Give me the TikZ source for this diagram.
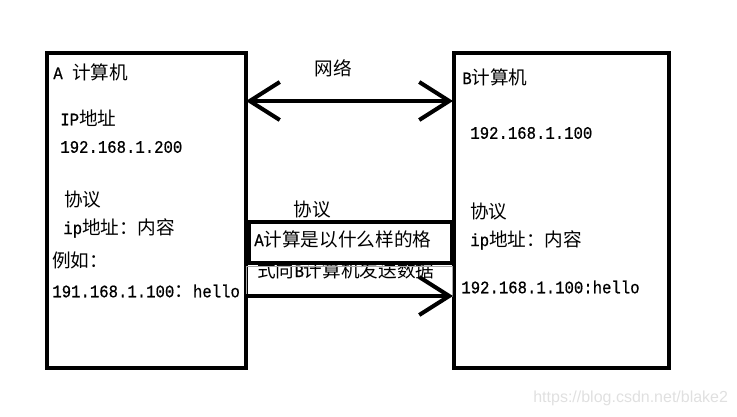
\documentclass[tikz,border=0pt]{standalone}
\usepackage{fontspec}
\setmainfont[FakeStretch=0.89, FakeBold=0.6]{Liberation Mono}
\newfontfamily\cjk[Scale=1.06]{Noto Sans CJK SC}
\newfontfamily\wmfont{Liberation Sans}
\usetikzlibrary{arrows.meta}
\tikzset{
  pcbox/.style={rectangle, draw=black, line width=1.8pt, minimum width=#1,
                minimum height=6.3cm, inner sep=0pt},
  txt/.style={anchor=west, inner sep=0pt, font=\fontsize{10}{11}\selectfont},
  lbl/.style={inner sep=0pt, font=\fontsize{10}{11}\selectfont},
  link/.style={line width=2.3pt, draw=black},
  protoframe/.style={line width=2.2pt, draw=black},
  helpline/.style={line width=0.5pt, draw=black!35},
  wm/.style={anchor=west, inner sep=0pt, text=black!12,
             font=\wmfont\fontsize{9.1}{10}\selectfont},
  >={Straight Barb[length=0.6cm, width=0.76cm]}
}
\begin{document}
\begin{tikzpicture}[x=0.02cm, y=-0.02cm]
\useasboundingbox (0,0) rectangle (737,416);

% the two computers
\node[pcbox=3.98cm] (boxA) at (146.5,210.5) {};
\node[pcbox=4.3cm] (boxB) at (561.5,210.5) {};

% computer A
\node[txt] (aTitle) at (53,72) {A {\cjk 计算机}};
\node[txt] (aIpLbl) at (60,118) {IP{\cjk 地址}};
\node[txt] (aIp) at (60,147) {192.168.1.200};
\node[txt] (aProto) at (64,199) {{\cjk 协议}};
\node[txt] (aFmt) at (63,228) {ip{\cjk 地址：内容}};
\node[txt] (aEg) at (52,260) {{\cjk 例如：}};
\node[txt] (aMsg) at (52,291) {191.168.1.100{\cjk ：}hello};

% computer B
\node[txt] (bTitle) at (462,77) {B{\cjk 计算机}};
\node[txt] (bIp) at (470,133) {192.168.1.100};
\node[txt] (bProto) at (470,211) {{\cjk 协议}};
\node[txt] (bFmt) at (470,240) {ip{\cjk 地址：内容}};
\node[txt] (bMsg) at (461,287) {192.168.1.100:hello};

% network
\node[lbl] (net) at (333,68) {{\cjk 网络}};
\coordinate (netL) at (246,101);
\coordinate (netR) at (453,101);
\draw[link, <->] (netL) -- (netR);

% protocol
\node[lbl] (protoLbl) at (312,209) {{\cjk 协议}};
\node[txt] (protoL1) at (254,239) {A{\cjk 计算是以什么样的格}};
\node[txt] (protoL2) at (257,270) {{\cjk 式向}B{\cjk 计算机发送数据}};
\node[draw=none, minimum width=4.06cm, minimum height=0.82cm,
      inner sep=0pt] (proto) at (350.5,242.5) {};
\draw[protoframe] (proto.north west) rectangle (proto.south east);
\draw[helpline] (246,266) rectangle (452,296);

% sending
\coordinate (sendA) at (246,296);
\coordinate (sendB) at (453,296);
\draw[link, ->] (sendA) -- (sendB);

\node[wm] (wmark) at (533,398) {https://blog.csdn.net/blake2};
\end{tikzpicture}
\end{document}
